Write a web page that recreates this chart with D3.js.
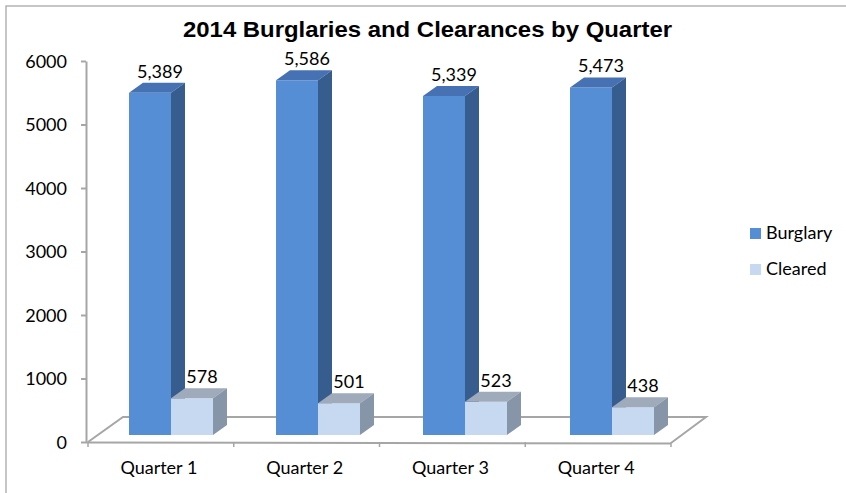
<!DOCTYPE html>
<html>
<head>
<meta charset="utf-8">
<script src="https://cdn.jsdelivr.net/npm/d3@7"></script>
<style>
  body { margin: 0; background: #fff; }
  text { font-family: Lato, "Open Sans", sans-serif; fill: #000; }
</style>
</head>
<body>
<script>
// data
const quarters = ["Quarter 1", "Quarter 2", "Quarter 3", "Quarter 4"];
const burglary = [5389, 5586, 5339, 5473];
const cleared = [578, 501, 523, 438];
const seriesNames = ["Burglary", "Cleared"];
const yTicks = [0, 1000, 2000, 3000, 4000, 5000, 6000];

const svgWidth = 846, svgHeight = 493;
const fontSize = "18px";
const svg = d3.select("body").append("svg")
  .attr("width", svgWidth)
  .attr("height", svgHeight);

// colours: front / top / side for each series
const faces = {
  Burglary: { front: "#558ed5", top: "#4672b4", side: "#375d8f" },
  Cleared: { front: "#c6d9f1", top: "#9faabb", side: "#8795a8" }
};
const gridGrey = "#a6a6a6";

// outer chart border (runs off the right and bottom)
svg.append("rect")
  .attr("x", 6).attr("y", 6)
  .attr("width", 860).attr("height", 500)
  .attr("fill", "none")
  .attr("stroke", "#a0a0a0")
  .attr("stroke-width", 1.2);

// title (stretched a bit wider, like the original)
svg.append("text")
  .attr("x", 183).attr("y", 37)
  .attr("textLength", 489)
  .attr("lengthAdjust", "spacingAndGlyphs")
  .style("font-family", "'Liberation Sans', Arial, sans-serif")
  .style("font-weight", "bold")
  .style("font-size", "21.5px")
  .text("2014 Burglaries and Clearances by Quarter");

// scales
const yAxisScale = d3.scaleLinear().domain([0, 6000]).range([442, 61]);
const yBar = d3.scaleLinear().domain([0, 6000]).range([435, 54]);
const xFront = d3.scaleBand().domain(quarters).range([88, 671]);
const xBar = d3.scaleBand().domain(quarters).range([97.5, 685.5])
  .paddingInner(0.42857).paddingOuter(0.21429);
const barW = xBar.bandwidth() / 2;
const depthX = 14, depthY = -10; // bar depth
const floorDx = 35, floorDy = -25; // floor depth

// floor outline (left edge + back edge + right edge)
const fl = xFront.range()[0], fr = xFront.range()[1], fy = yAxisScale(0);
svg.append("path")
  .attr("d", "M" + fl + "," + fy +
             "L" + (fl + floorDx) + "," + (fy + floorDy) +
             "L" + (fr + floorDx) + "," + (fy + floorDy) +
             "L" + fr + "," + (fy + 1))
  .attr("fill", "none")
  .attr("stroke", gridGrey)
  .attr("stroke-width", 2);

// y axis
const yAxis = d3.axisLeft(yAxisScale)
  .tickValues(yTicks)
  .tickFormat(d3.format("d"))
  .tickSize(5)
  .tickSizeOuter(0)
  .tickPadding(14);
const yg = svg.append("g")
  .attr("transform", "translate(86,0)")
  .call(yAxis);
yg.select(".domain").attr("stroke", gridGrey).attr("stroke-width", 2);
yg.selectAll(".tick line").attr("stroke", gridGrey).attr("stroke-width", 2);
yg.selectAll(".tick text")
  .style("font-family", "Lato, sans-serif")
  .style("font-size", fontSize)
  .attr("dy", "0.36em");

// x axis line with boundary ticks
svg.append("line")
  .attr("x1", fl - 2).attr("x2", fr)
  .attr("y1", fy + 0.5).attr("y2", fy + 1.5)
  .attr("stroke", gridGrey).attr("stroke-width", 2);
const bounds = quarters.map(q => xFront(q)).concat([fr]);
svg.selectAll(".xtick").data(bounds).enter().append("line")
  .attr("class", "xtick")
  .attr("x1", d => d).attr("x2", d => d)
  .attr("y1", fy).attr("y2", fy + 5)
  .attr("stroke", gridGrey).attr("stroke-width", 1.5);
svg.selectAll(".xlabel").data(quarters).enter().append("text")
  .attr("class", "xlabel")
  .attr("x", d => xFront(d) + xFront.bandwidth() / 2 - 2)
  .attr("y", 474)
  .attr("text-anchor", "middle")
  .style("font-size", fontSize)
  .text(d => d);

// 3D bars
function drawBar(g, x, value, col) {
  const top = yBar(value), bottom = yBar(0);
  g.append("rect")
    .attr("x", x).attr("y", top)
    .attr("width", barW).attr("height", bottom - top)
    .attr("fill", col.front);
  g.append("path")
    .attr("d", "M" + x + "," + top + "L" + (x + depthX) + "," + (top + depthY) +
               "L" + (x + barW + depthX) + "," + (top + depthY) + "L" + (x + barW) + "," + top + "Z")
    .attr("fill", col.top);
  g.append("path")
    .attr("d", "M" + (x + barW) + "," + top + "L" + (x + barW + depthX) + "," + (top + depthY) +
               "L" + (x + barW + depthX) + "," + (bottom + depthY) + "L" + (x + barW) + "," + bottom + "Z")
    .attr("fill", col.side);
  g.append("text")
    .attr("x", x + barW / 2 + 10)
    .attr("y", top + depthY - 5)
    .attr("text-anchor", "middle")
    .style("font-size", fontSize)
    .text(d3.format(",")(value));
}

const bars = svg.append("g");
quarters.forEach((q, i) => {
  const gx = xBar(q);
  drawBar(bars, gx, burglary[i], faces.Burglary);
  drawBar(bars, gx + barW, cleared[i], faces.Cleared);
});

// legend
const legend = svg.append("g");
seriesNames.forEach((name, i) => {
  legend.append("rect")
    .attr("x", 750).attr("y", 228 + i * 36)
    .attr("width", 11).attr("height", 11)
    .attr("fill", faces[name].front);
  legend.append("text")
    .attr("x", 766).attr("y", 239 + i * 36)
    .style("font-size", fontSize)
    .text(name);
});
</script>
</body>
</html>
